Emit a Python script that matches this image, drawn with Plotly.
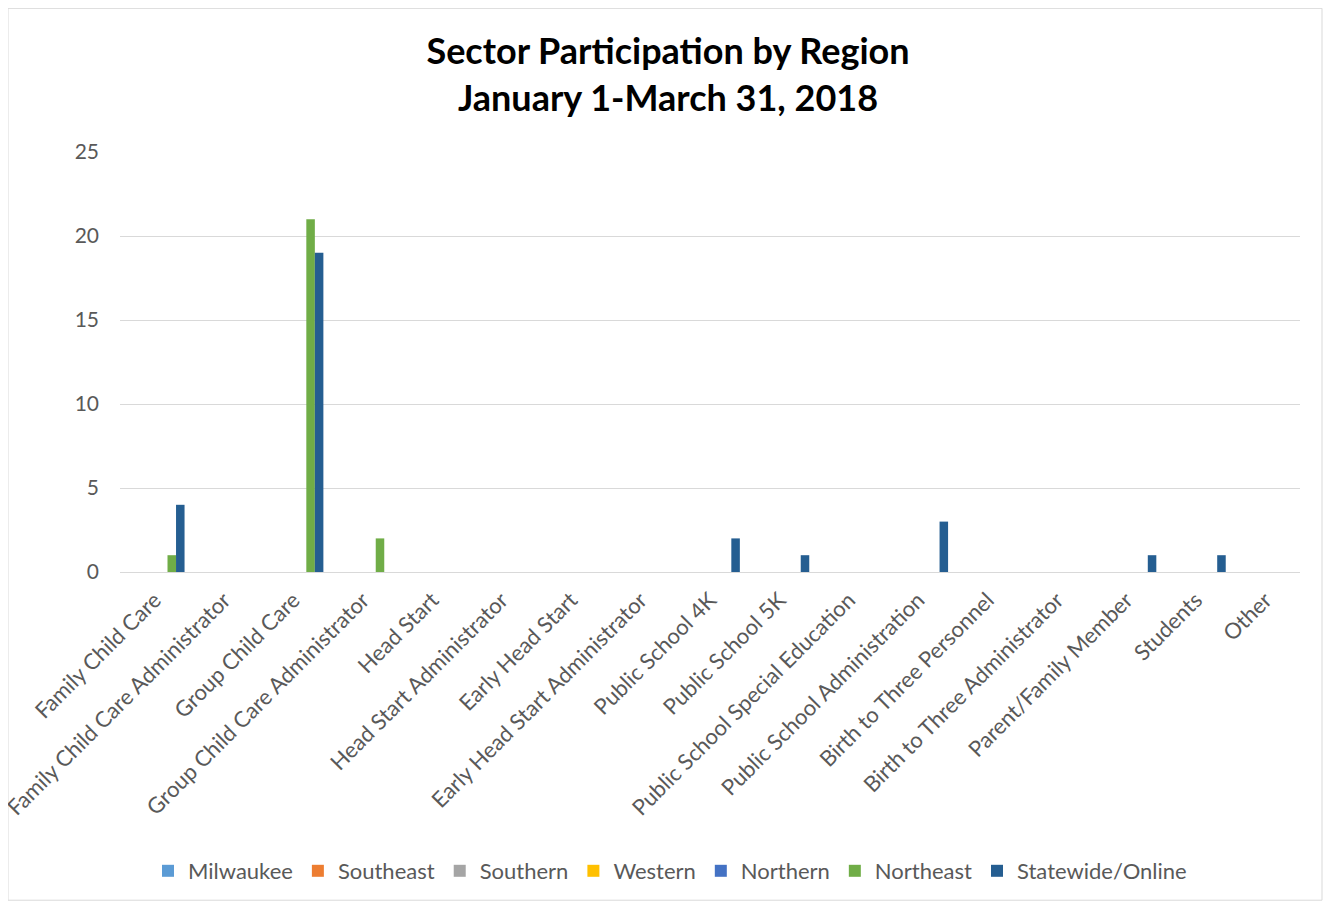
import plotly.graph_objects as go

categories = [
    "Family Child Care", "Family Child Care Administrator", "Group Child Care",
    "Group Child Care Administrator", "Head Start", "Head Start Administrator",
    "Early Head Start", "Early Head Start Administrator", "Public School 4K",
    "Public School 5K", "Public School Special Education", "Public School Administration",
    "Birth to Three Personnel", "Birth to Three Administrator", "Parent/Family Member",
    "Students", "Other",
]
milwaukee = [0] * 17
southeast = [0] * 17
southern = [0] * 17
western = [0] * 17
northern = [0] * 17
northeast = [1, 0, 21, 2, 0, 0, 0, 0, 0, 0, 0, 0, 0, 0, 0, 0, 0]
statewide = [4, 0, 19, 0, 0, 0, 0, 0, 2, 1, 0, 3, 0, 0, 1, 1, 0]
y_ticks = [0, 5, 10, 15, 20, 25]

series = [
    ("Milwaukee", milwaukee, "#5B9BD5"),
    ("Southeast", southeast, "#ED7D31"),
    ("Southern", southern, "#A5A5A5"),
    ("Western", western, "#FFC000"),
    ("Northern", northern, "#4472C4"),
    ("Northeast", northeast, "#70AD47"),
    ("Statewide/Online", statewide, "#255E91"),
]

FONT = "Lato"
fig = go.Figure()
for name, vals, color in series:
    fig.add_trace(go.Bar(x=categories, y=vals, name=name,
                         marker=dict(color=color, line=dict(width=0))))

# page has an 8px body margin; figure sits at (8, 8)
OFF = 8
W, H = 1331 - 2 * OFF, 911 - 2 * OFF
L, T = 120 - OFF, 152 - OFF
R = W - (1300 - OFF)
B = H - (573 - OFF)
pw, ph = W - L - R, H - T - B

def px_x(p):
    return (p - OFF - L) / pw

def px_y(p):
    return (H - B - (p - OFF)) / ph

fig.update_layout(
    width=W, height=H,
    margin=dict(l=L, r=R, t=T, b=B),
    paper_bgcolor="white", plot_bgcolor="white",
    barmode="group", bargap=0.14, bargroupgap=0,
    font=dict(family=FONT, color="#595959"),
    title=dict(
        text="<b>Sector Participation by Region<br>January 1-March 31, 2018</b>",
        x=(668 - OFF) / W, xref="container", xanchor="center",
        y=1 - (64 - OFF) / H, yref="container", yanchor="middle",
        font=dict(family=FONT, size=36, color="#000000"),
    ),
    xaxis=dict(
        tickangle=-45, tickfont=dict(family=FONT, size=22, color="#595959"),
        showgrid=False, showline=False, ticks="", automargin=False,
        ticklabelstandoff=10,
    ),
    yaxis=dict(
        range=[0, 25], tickvals=y_ticks, showgrid=True, gridcolor="#D9D9D9",
        gridwidth=1, zeroline=True, zerolinecolor="#D9D9D9", zerolinewidth=1,
        showline=False, ticks="", ticklen=0, ticklabelstandoff=20,
        tickfont=dict(family=FONT, size=21, color="#595959"),
        automargin=False,
    ),
    legend=dict(
        orientation="h", x=px_x(670), xanchor="center", y=px_y(871), yanchor="middle",
        font=dict(family=FONT, size=22, color="#595959"),
        itemwidth=30, traceorder="normal",
    ),
    shapes=[dict(
        type="rect", xref="paper", yref="paper",
        x0=-L / pw, x1=(W - L - 1) / pw, y0=-(B - 1) / ph, y1=(H - B) / ph,
        line=dict(color="#D9D9D9", width=1), fillcolor="rgba(0,0,0,0)", layer="below",
    )],
)

fig.write_html("out.html")
